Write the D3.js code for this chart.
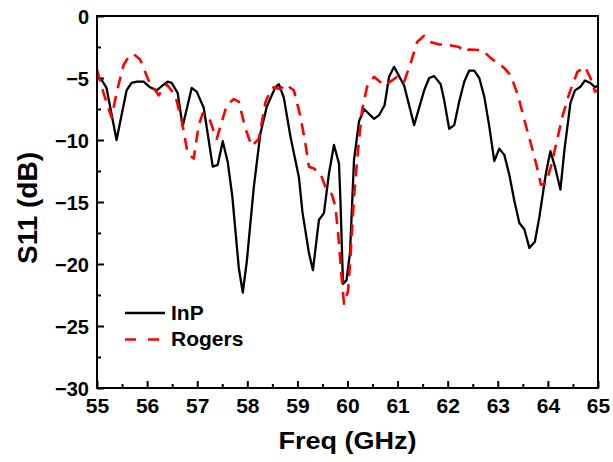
<!DOCTYPE html>
<html>
<head>
<meta charset="utf-8">
<script src="https://cdnjs.cloudflare.com/ajax/libs/d3/7.8.5/d3.min.js"></script>
<style>
  body { margin: 0; background: #fff; }
  svg { display: block; font-family: Arial, "Liberation Sans", sans-serif; font-weight: bold; }
  .axis path, .axis line { stroke: #000; stroke-width: 2px; }
  .axis text { fill: #000; font-weight: bold; font-family: Arial, "Liberation Sans", sans-serif; }
</style>
</head>
<body>
<svg class="chart"></svg>
<script>
// InP measurement
var inpFreq = [55.0, 55.1, 55.19, 55.39, 55.59, 55.69, 55.8, 55.93, 56.06, 56.19, 56.31, 56.41, 56.49,
  56.61, 56.71, 56.89, 56.99, 57.13, 57.31, 57.41, 57.51, 57.61, 57.7, 57.83, 57.91, 57.99, 58.13,
  58.26, 58.39, 58.56, 58.63, 58.73, 58.86, 59.03, 59.1, 59.23, 59.31, 59.43, 59.53, 59.63, 59.73,
  59.83, 59.86, 59.91, 59.98, 60.05, 60.13, 60.23, 60.33, 60.53, 60.63, 60.74, 60.83, 60.93, 61.13,
  61.33, 61.53, 61.63, 61.73, 61.86, 61.93, 62.03, 62.13, 62.23, 62.33, 62.43, 62.53, 62.63, 62.73,
  62.83, 62.93, 63.03, 63.13, 63.23, 63.33, 63.43, 63.53, 63.63, 63.74, 63.83, 63.96, 64.05, 64.14,
  64.25, 64.33, 64.45, 64.54, 64.65, 64.74, 64.85, 64.94, 65.0];
var inpS11 = [-4.8, -5.2, -5.8, -10.0, -6.0, -5.4, -5.3, -5.3, -5.75, -6.0, -5.6, -5.3, -5.4,
  -6.2, -8.9, -5.8, -6.1, -7.4, -12.15, -12.0, -10.1, -11.8, -14.5, -20.3, -22.3, -19.8, -13.8,
  -9.5, -7.3, -5.75, -5.5, -6.6, -9.7, -13.0, -15.8, -19.1, -20.5, -16.45, -15.9, -12.7, -10.4,
  -11.9, -15.0, -21.6, -21.3, -19.1, -11.6, -8.5, -7.5, -8.3, -8.0, -7.2, -4.9, -4.1, -5.6,
  -8.8, -6.0, -5.0, -4.85, -5.5, -6.8, -9.1, -8.8, -6.9, -5.3, -4.4, -4.4, -5.0, -6.5,
  -8.9, -11.7, -10.7, -11.2, -12.8, -14.9, -16.7, -17.2, -18.7, -18.2, -16.2, -12.7, -10.9, -12.15,
  -14.0, -10.8, -7.0, -6.0, -5.7, -5.2, -5.4, -5.75, -5.6];

// Rogers measurement
var rogersFreq = [55.0, 55.13, 55.29, 55.39, 55.53, 55.63, 55.73, 55.86, 56.03, 56.23, 56.39, 56.56,
  56.69, 56.81, 56.93, 57.03, 57.11, 57.23, 57.33, 57.39, 57.47, 57.59, 57.73, 57.83, 57.96, 58.09,
  58.23, 58.36, 58.46, 58.53, 58.66, 58.76, 58.93, 59.06, 59.16, 59.23, 59.33, 59.46, 59.56, 59.69,
  59.76, 59.83, 59.88, 59.93, 60.01, 60.06, 60.13, 60.21, 60.29, 60.39, 60.53, 60.73, 60.89, 60.99,
  61.13, 61.26, 61.39, 61.53, 61.66, 61.83, 61.96, 62.23, 62.33, 62.43, 62.69, 62.86, 63.13, 63.26,
  63.41, 63.53, 63.66, 63.78, 63.86, 63.96, 64.06, 64.16, 64.29, 64.43, 64.59, 64.74, 64.85, 64.94, 65.0];
var rogersS11 = [-4.35, -6.2, -8.2, -6.2, -3.95, -3.3, -3.06, -3.5, -5.2, -6.4, -5.5, -6.4,
  -8.4, -11.1, -11.5, -8.8, -7.85, -8.1, -9.3, -9.9, -8.8, -7.2, -6.7, -6.9, -9.05, -10.5,
  -9.9, -7.0, -6.0, -5.75, -5.9, -5.5, -6.0, -8.1, -10.3, -12.15, -12.3, -12.7, -13.8, -14.4,
  -15.4, -18.3, -21.0, -23.2, -22.2, -19.4, -14.6, -10.8, -7.6, -5.7, -4.9, -5.6, -5.2, -4.9,
  -5.3, -3.8, -2.1, -1.6, -2.1, -2.3, -2.3, -2.5, -2.9, -2.7, -2.75, -3.4, -4.2, -4.8,
  -6.5, -8.4, -10.3, -12.15, -13.6, -13.5, -12.15, -10.4, -8.1, -6.2, -4.5, -4.1, -5.0, -6.1, -6.0];

var xTicks = [55, 56, 57, 58, 59, 60, 61, 62, 63, 64, 65];
var yTicks = [0, -5, -10, -15, -20, -25, -30];

var series = [
  { name: "InP", freq: inpFreq, s11: inpS11, color: "#000", width: 2.3, dash: null },
  { name: "Rogers", freq: rogersFreq, s11: rogersS11, color: "#ff0000", width: 2.6, dash: "12,8" }
];

var W = 613, H = 462;
var plotLeft = 97, plotRight = 598, plotTop = 16, plotBottom = 388;

var svg = d3.select(".chart")
    .attr("width", W)
    .attr("height", H);

var x = d3.scaleLinear().domain([55, 65]).range([plotLeft, plotRight]);
var y = d3.scaleLinear().domain([-30, 0]).range([plotBottom, plotTop]);

// minor ticks first, so majors sit on top
svg.append("g")
    .attr("class", "axis")
    .attr("transform", "translate(0," + plotBottom + ")")
    .call(d3.axisBottom(x).tickValues(d3.range(55.5, 65, 1)).tickSize(-4).tickFormat(""))
    .select(".domain").remove();

svg.append("g")
    .attr("class", "axis")
    .attr("transform", "translate(" + plotLeft + ",0)")
    .call(d3.axisLeft(y).tickValues(d3.range(-27.5, 0, 5)).tickSize(-4).tickFormat(""))
    .select(".domain").remove();

var gx = svg.append("g")
    .attr("class", "axis")
    .attr("transform", "translate(0," + plotBottom + ")")
    .call(d3.axisBottom(x).tickValues(xTicks).tickSize(-7).tickPadding(10).tickFormat(d3.format("d")));
gx.select(".domain").remove();
gx.selectAll("text").style("font-size", "21px");

var gy = svg.append("g")
    .attr("class", "axis")
    .attr("transform", "translate(" + plotLeft + ",0)")
    .call(d3.axisLeft(y).tickValues(yTicks).tickSize(-7).tickPadding(8).tickFormat(d3.format("d")));
gy.select(".domain").remove();
gy.selectAll("text").style("font-size", "20px").attr("dy", "0.35em");

svg.append("defs").append("clipPath")
    .attr("id", "plot")
  .append("rect")
    .attr("x", plotLeft)
    .attr("y", plotTop)
    .attr("width", plotRight - plotLeft)
    .attr("height", plotBottom - plotTop);

var line = d3.line()
    .x(function(d) { return x(d[0]); })
    .y(function(d) { return y(d[1]); });

series.forEach(function(s) {
  svg.append("path")
      .datum(d3.zip(s.freq, s.s11))
      .attr("clip-path", "url(#plot)")
      .attr("d", line)
      .attr("fill", "none")
      .attr("stroke", s.color)
      .attr("stroke-width", s.width)
      .attr("stroke-linejoin", "round")
      .attr("stroke-dasharray", s.dash);
});

// frame
svg.append("rect")
    .attr("x", plotLeft)
    .attr("y", plotTop)
    .attr("width", plotRight - plotLeft)
    .attr("height", plotBottom - plotTop)
    .attr("fill", "none")
    .attr("stroke", "#000")
    .attr("stroke-width", 2);

// legend
var legend = svg.append("g").attr("transform", "translate(125,313)");
series.forEach(function(s, i) {
  var row = legend.append("g").attr("transform", "translate(0," + (i * 26.5) + ")");
  row.append("line")
      .attr("x1", 0).attr("x2", 40)
      .attr("y1", 0).attr("y2", 0)
      .attr("stroke", s.color)
      .attr("stroke-width", s.width)
      .attr("stroke-dasharray", s.dash ? "11,12" : null);
  row.append("text")
      .attr("x", 46)
      .attr("y", 6.5)
      .style("font-size", "21px")
      .text(s.name);
});

svg.append("text")
    .attr("x", (278 + 417) / 2)
    .attr("y", 449)
    .attr("text-anchor", "middle")
    .attr("textLength", 138)
    .attr("lengthAdjust", "spacingAndGlyphs")
    .style("font-size", "24px")
    .text("Freq (GHz)");

svg.append("text")
    .attr("transform", "translate(37,208) rotate(-90)")
    .attr("text-anchor", "middle")
    .style("font-size", "28px")
    .text("S11 (dB)");
</script>
</body>
</html>
